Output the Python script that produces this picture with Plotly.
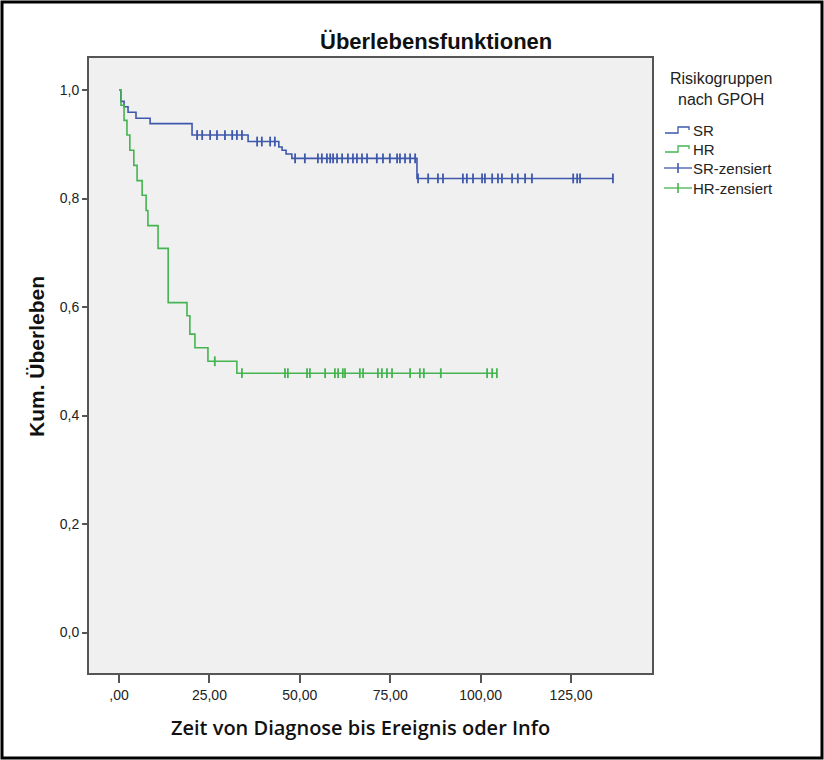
import numpy as np
import plotly.graph_objects as go

# ---------------- data ----------------
title_text = "Überlebensfunktionen"
x_title = "Zeit von Diagnose bis Ereignis oder Info"
y_title = "Kum. Überleben"
legend_title = "Risikogruppen<br>nach GPOH"
group_names = ["SR", "HR"]
censor_names = ["SR-zensiert", "HR-zensiert"]

x_tick_vals = [0, 25, 50, 75, 100, 125]
x_tick_text = [",00", "25,00", "50,00", "75,00", "100,00", "125,00"]
y_tick_vals = [0.0, 0.2, 0.4, 0.6, 0.8, 1.0]
y_tick_text = ["0,0", "0,2", "0,4", "0,6", "0,8", "1,0"]

# SR group: event times and survival after each event
sr_event_times = [0.5, 1.4, 2.5, 4.7, 8.6, 20.2, 35.7, 44.2, 45.1, 46.2, 47.8, 82.4]
sr_event_surv = [0.979, 0.969, 0.959, 0.948, 0.938, 0.917, 0.905, 0.895, 0.889, 0.882, 0.874, 0.837]
sr_censor_times = [21.6, 23.0, 25.2, 27.1, 29.3, 31.3, 32.6, 34.0, 38.2, 39.5, 41.8, 43.1,
                   48.7, 51.4, 55.0, 56.1, 57.5, 58.4, 59.2, 60.3, 61.7, 63.3, 64.7, 65.8,
                   67.2, 68.6, 71.3, 73.0, 74.9, 76.9, 77.7, 79.1, 80.5, 81.9,
                   82.7, 85.5, 88.2, 89.6, 95.1, 96.2, 97.9, 100.4, 101.2, 103.2, 104.8,
                   105.9, 108.7, 110.3, 112.3, 114.2, 125.6, 126.7, 127.5, 136.6]

# HR group
hr_event_times = [0.55, 1.4, 2.2, 3.0, 4.1, 5.0, 6.4, 7.5, 8.0, 10.8, 13.6, 18.8, 19.6, 21.0, 24.6, 32.6]
hr_event_surv = [0.972, 0.944, 0.917, 0.889, 0.861, 0.833, 0.806, 0.778, 0.750, 0.708, 0.608,
                 0.584, 0.550, 0.525, 0.500, 0.478]
hr_censor_times = [26.5, 34.0, 45.9, 46.7, 52.0, 52.8, 57.0, 59.7, 60.6, 61.9, 62.5, 66.6, 67.5,
                   71.6, 72.7, 74.1, 75.5, 80.5, 83.2, 84.3, 89.0, 101.8, 103.2, 104.5]

colors = ["#3E58AC", "#45B450"]

# ---------------- layout geometry (pixels) ----------------
W, H = 824, 760
L, R, T, B = 89, 652, 58, 673   # plot area box


def px_x(px):
    return (px - L) / (R - L)


def px_y(py):
    return (B - py) / (B - T)


def step_xy(ev_t, ev_s, cens_t):
    end = max(max(ev_t), max(cens_t))
    xs = [0.0] + list(ev_t) + [end]
    ys = [1.0] + list(ev_s) + [ev_s[-1]]
    return xs, ys


def surv_at(ev_t, ev_s, times):
    idx = np.searchsorted(np.array(ev_t), np.array(times), side="right") - 1
    s = np.array([1.0] + list(ev_s))
    return s[idx + 1]


fig = go.Figure()
groups = [(sr_event_times, sr_event_surv, sr_censor_times),
          (hr_event_times, hr_event_surv, hr_censor_times)]
for i, (et, es, ct) in enumerate(groups):
    xs, ys = step_xy(et, es, ct)
    fig.add_trace(go.Scatter(x=xs, y=ys, mode="lines", line=dict(color=colors[i], width=1.6, shape="hv"),
                             name=group_names[i], showlegend=False, hoverinfo="skip"))
for i, (et, es, ct) in enumerate(groups):
    fig.add_trace(go.Scatter(x=ct, y=surv_at(et, es, ct), mode="markers",
                             marker=dict(symbol="line-ns-open", size=7, color=colors[i],
                                         line=dict(color=colors[i], width=1.8)),
                             name=censor_names[i], showlegend=False))

font_main = "Liberation Sans, Arial, sans-serif"

shapes = []
annotations = []
# outer frame
shapes.append(dict(type="rect", xref="paper", yref="paper", x0=px_x(2), x1=px_x(822), y0=px_y(758), y1=px_y(2),
                   line=dict(color="black", width=3), layer="below"))

# custom legend
annotations.append(dict(text=legend_title, xref="paper", yref="paper", x=px_x(721), y=px_y(89),
                        xanchor="center", yanchor="middle", showarrow=False,
                        font=dict(family=font_main, size=16, color="#222"), align="center"))
leg_y = [130, 149, 168, 188]
leg_labels = group_names + censor_names
for k in range(4):
    col = colors[k % 2]
    yc = leg_y[k]
    if k < 2:
        path = "M {},{} L {},{} L {},{} L {},{} L {},{}".format(
            px_x(665), px_y(yc + 3), px_x(678), px_y(yc + 3), px_x(678), px_y(yc - 3),
            px_x(689), px_y(yc - 3), px_x(689), px_y(yc))
        shapes.append(dict(type="path", xref="paper", yref="paper", path=path,
                           line=dict(color=col, width=1.3)))
    else:
        shapes.append(dict(type="line", xref="paper", yref="paper", x0=px_x(664), x1=px_x(692),
                           y0=px_y(yc), y1=px_y(yc), line=dict(color=col, width=1.3)))
        shapes.append(dict(type="line", xref="paper", yref="paper", x0=px_x(678), x1=px_x(678),
                           y0=px_y(yc - 5), y1=px_y(yc + 5), line=dict(color=col, width=1.6)))
    annotations.append(dict(text=leg_labels[k], xref="paper", yref="paper", x=px_x(691), y=px_y(yc),
                            xanchor="left", yanchor="middle", showarrow=False,
                            font=dict(family=font_main, size=15, color="#222")))

# titles
annotations.append(dict(text="<b>" + title_text + "</b>", xref="paper", yref="paper", x=px_x(436), y=px_y(42),
                        xanchor="center", yanchor="middle", showarrow=False,
                        font=dict(family=font_main, size=22, color="#111")))
annotations.append(dict(text="<b>" + y_title + "</b>", xref="paper", yref="paper", x=px_x(36), y=px_y(357),
                        xanchor="center", yanchor="middle", showarrow=False, textangle=-90,
                        font=dict(family=font_main, size=21, color="#111")))
annotations.append(dict(text=x_title, xref="paper", yref="paper", x=px_x(360), y=px_y(727),
                        xanchor="center", yanchor="middle", showarrow=False,
                        font=dict(family="Open Sans, Lato, sans-serif", size=20, color="#111", weight=600)))

x_lo = (L - 119) / 3.616
x_hi = (R - 119) / 3.616
y_lo = (632.5 - B) / 542.5
y_hi = (632.5 - T) / 542.5

fig.update_layout(
    width=W, height=H,
    margin=dict(l=L, r=W - R, t=T, b=H - B, pad=0),
    paper_bgcolor="white", plot_bgcolor="#F0F0F0",
    showlegend=False,
    shapes=shapes, annotations=annotations,
    xaxis=dict(range=[x_lo, x_hi], tickvals=x_tick_vals, ticktext=x_tick_text,
               showgrid=False, zeroline=False, showline=True, mirror=True,
               linecolor="#555", linewidth=2, ticks="outside", ticklen=8, tickwidth=1.5,
               tickcolor="#555", tickfont=dict(family=font_main, size=14, color="#222")),
    yaxis=dict(range=[y_lo, y_hi], tickvals=y_tick_vals, ticktext=y_tick_text,
               showgrid=False, zeroline=False, showline=True, mirror=True,
               linecolor="#555", linewidth=2, ticks="outside", ticklen=5, tickwidth=1.5,
               tickcolor="#555", tickfont=dict(family=font_main, size=14, color="#222")),
)

fig.write_html("out.html", post_script="document.body.style.margin='0';",
               config={"displayModeBar": False})
